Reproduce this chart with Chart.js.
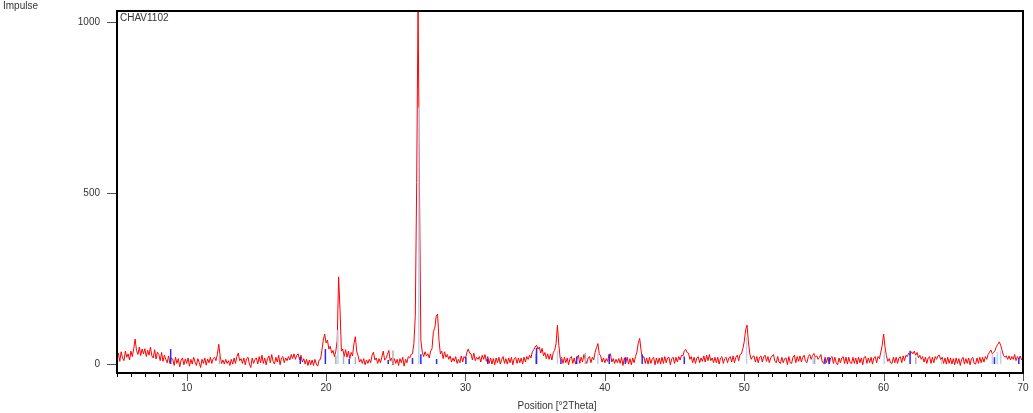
<!DOCTYPE html>
<html>
<head>
<meta charset="utf-8">
<script src="https://cdn.jsdelivr.net/npm/chart.js@4"></script>
<style>
  html, body { margin: 0; padding: 0; background: #fff; }
  #wrap { width: 1033px; height: 413px; }
</style>
</head>
<body>
<div id="wrap"><canvas id="xrd" width="1033" height="413"></canvas></div>
<script>
// scan: 5.0 to 70.0 deg 2Theta, one row per degree (0.1 step)
const startAngle = 5, angleStep = 0.1;
const impulse = [
  12, 32, 8, 36, 18, 10, 38, 20, 30, 12,
  38, 22, 45, 73, 40, 28, 50, 25, 44, 30,
  45, 22, 40, 26, 50, 24, 18, 42, 15, 35,
  28, 10, 34, 8, 26, 14, 4, 24, 2, 18,
  14, -4, 20, 2, 16, -8, 12, 18, -2, 15,
  2, 18, -6, 14, 0, 20, 6, -4, 16, 4,
  -10, 14, 2, 18, -3, 15, 4, 20, 2, 16,
  20, 10, 28, 58, 24, 2, 12, 0, 14, 2,
  10, -4, 14, 0, 18, 2, 22, 32, 10, 16,
  2, 18, -2, 16, 20, 0, -10, 18, 2, 14,
  18, 0, 22, 4, 26, 2, 18, -2, 16, 24,
  4, 28, 8, 0, 20, 6, 26, -2, 18, 22,
  4, 18, 10, 22, 12, 28, 16, 30, 14, 26,
  30, 12, 26, 6, 16, 0, 14, -4, 12, -2,
  12, -4, 14, 0, -6, 12, 14, 40, 70, 88,
  62, 70, 44, 52, 32, 40, 22, 38, 70, 255,
  160, 38, 44, 22, 42, 20, 38, 16, 34, 24,
  60, 80, 36, 24, 6, 14, 2, 16, -2, 12,
  2, 14, 4, 26, 35, 12, 18, 2, 16, 4,
  20, 38, 12, 16, 28, 40, 10, 18, -2, 16,
  2, 14, -4, 16, 4, 20, -6, 14, 4, 22,
  18, 28, 30, 60, 140, 530, 1060, 520, 70, 35,
  22, 36, 24, 30, 18, 38, 45, 95, 105, 140,
  146, 70, 30, 38, 16, 36, 20, 28, 14, 24,
  6, 18, 8, 22, 2, 14, 4, 24, 6, 22,
  16, 34, 44, 32, 30, 12, 32, 10, 20, 14,
  22, 6, 26, 14, 28, 8, 22, 2, 18, 0,
  16, -2, 18, 4, 20, 0, 14, 22, 2, 16,
  0, 18, 4, 20, -2, 16, 20, 2, 18, 4,
  18, 0, 20, 6, 22, 14, 26, 18, 36, 42,
  50, 55, 44, 50, 32, 46, 24, 34, 16, 30,
  14, 30, 12, 34, 40, 60, 114, 55, 16, 20,
  2, 20, 4, 18, -2, 16, 22, 2, 18, 0,
  18, 26, 2, 20, 6, 28, 12, 2, 18, 22,
  4, 20, 12, 34, 48, 60, 30, 24, 6, 18,
  4, 16, 8, 28, 30, 6, 16, 2, 14, 4,
  16, 2, 20, -4, 18, 4, 20, 0, 16, -2,
  18, 4, 22, 35, 62, 75, 40, 18, 22, 2,
  18, 0, 20, 2, 16, 20, -2, 18, 2, 18,
  0, 20, 2, 22, 4, 18, 20, -2, 16, 20,
  2, 20, 6, 22, 12, 26, 24, 38, 43, 34,
  32, 14, 22, 4, 20, 2, 18, 22, 4, 18,
  8, 24, 6, 26, 10, 28, 10, 18, 4, 20,
  4, 20, 0, 18, 22, 2, 16, 20, 4, 18,
  22, 6, 24, 4, 20, 26, 10, 28, 30, 45,
  65, 100, 114, 65, 30, 14, 22, 24, 6, 22,
  4, 20, 24, 6, 22, 26, 8, 22, 4, 18,
  24, 28, 8, 4, 22, 6, 2, 20, 4, 16,
  18, -2, 22, 4, 2, 20, 26, 4, 22, 8,
  24, 6, 20, 26, 8, 4, 22, 28, 14, 25,
  31, 20, 24, 14, 20, 28, 6, 2, 20, 4,
  20, 0, 18, 22, 2, 20, 4, -2, 18, 4,
  18, 22, 2, 20, 0, 20, 4, 2, 20, 2,
  18, 0, 20, 4, 18, -2, 20, 22, 2, 18,
  4, 20, 0, 18, 22, 4, 22, 16, 35, 55,
  88, 50, 25, 8, 16, 4, 2, 20, 4, 20,
  2, 18, 22, 4, 24, 10, 26, 22, 32, 28,
  36, 30, 38, 26, 34, 18, 26, 14, 22, 6,
  20, 2, 18, 22, 2, 20, 4, 22, 14, 24,
  26, 12, 20, 2, 18, 0, 20, 2, 18, 0,
  16, -2, 18, 2, 16, -4, 14, 20, 0, 16,
  2, 18, -2, 16, 20, 2, 0, 18, 2, 20,
  4, 20, 6, 22, 14, 28, 35, 41, 30, 34,
  40, 52, 58, 65, 55, 40, 25, 20, 24, 14,
  24, 12, 22, 14, 28, 10, 22, 14, 24, 12,
  20
];

// reference pattern sticks
const blueAngles  = [8.85, 18.15, 19.95, 21.66, 24.46, 26.2, 26.8, 27.93, 30.03, 31.6, 35.1, 36.85, 37.98, 40.32, 41.47, 42.68, 45.7, 55.79, 56.1, 61.9, 67.95, 69.7];
const blueHeights = [44, 21, 44, 15, 12, 18, 29, 15, 20, 16, 47, 15, 22, 29, 20, 28, 22, 14, 20, 39, 20, 18];
const lightAngles  = [20.85, 26.65, 36.6, 39.5, 50.17, 54.95, 60.05, 64.15, 67.8, 68.15, 68.4];
const lightHeights = [100, 750, 40, 30, 80, 20, 40, 15, 30, 35, 40];
const greyAngles  = [12.35, 20.7, 21.25, 22.1, 24.8, 35.05, 38.6, 55.05, 62.3];
const greyHeights = [26, 25, 25, 20, 40, 30, 33, 20, 20];

const xTickValues = [10, 20, 30, 40, 50, 60, 70];
const yTickValues = [0, 500, 1000];

const scan = impulse.map((v, i) => ({ x: +(startAngle + i * angleStep).toFixed(1), y: v }));

function sticks(angles, heights) {
    let pts = [];
    angles.forEach((a, i) => {
        pts.push({ x: a, y: 0 }, { x: a, y: heights[i] }, { x: a, y: null });
    });
    return pts;
}

function noPad(s) {
    s.paddingTop = 0;
    s.paddingBottom = 0;
    s.paddingLeft = 0;
    s.paddingRight = 0;
}

const frame = {
    id: 'frame',
    afterDraw(chart) {
        const c = chart.ctx, a = chart.chartArea;
        const xs = chart.scales.x, ys = chart.scales.y;
        c.save();
        c.lineWidth = 1;
        // x ticks, every degree, longer at tens
        for (let v = 5; v <= 70; v++) {
            let px = Math.round(xs.getPixelForValue(v)) + 0.5;
            c.strokeStyle = v % 10 === 0 ? '#555' : '#000';
            c.beginPath();
            c.moveTo(px, a.bottom);
            c.lineTo(px, a.bottom + (v % 10 === 0 ? 8 : 4));
            c.stroke();
        }
        c.strokeStyle = '#555';
        yTickValues.forEach(v => {
            let py = Math.round(ys.getPixelForValue(v)) + 0.5;
            c.beginPath();
            c.moveTo(a.left - 10, py);
            c.lineTo(a.left, py);
            c.stroke();
        });
        c.strokeStyle = '#000';
        c.lineWidth = 2;
        c.strokeRect(a.left, a.top, a.right - a.left, a.bottom - a.top);

        c.fillStyle = '#333';
        c.font = '10px "Liberation Sans", Arial, sans-serif';
        c.textBaseline = 'middle';
        c.textAlign = 'left';
        c.fillText('Impulse', 3, 6);
        c.fillText('CHAV1102', a.left + 3, a.top + 7);
        c.textAlign = 'center';
        c.fillText('Position [°2Theta]', 557, 406);
        c.restore();
    }
};

let ctx = document.getElementById('xrd').getContext('2d');
let xrdChart = new Chart(ctx, {
    type: 'line',
    data: {
        datasets: [
            {
                label: 'ref 1',
                data: sticks(blueAngles, blueHeights),
                borderColor: 'rgb(40, 40, 255)',
                borderWidth: 1.5,
                pointRadius: 0,
                spanGaps: false
            },
            {
                label: 'ref 2',
                data: sticks(greyAngles, greyHeights),
                borderColor: 'rgb(175, 175, 175)',
                borderWidth: 1.5,
                pointRadius: 0,
                spanGaps: false
            },
            {
                label: 'ref 3',
                data: sticks(lightAngles, lightHeights),
                borderColor: 'rgb(190, 210, 245)',
                borderWidth: 1.5,
                pointRadius: 0,
                spanGaps: false
            },
            {
                label: 'CHAV1102',
                data: scan,
                borderColor: 'rgb(255, 0, 0)',
                borderWidth: 1,
                pointRadius: 0,
                tension: 0
            }
        ]
    },
    options: {
        responsive: false,
        animation: false,
        events: [],
        layout: { padding: { top: 11, right: 10, left: 0, bottom: 0 } },
        plugins: {
            legend: { display: false },
            tooltip: { enabled: false }
        },
        scales: {
            x: {
                type: 'linear',
                min: 5,
                max: 70,
                grid: { display: false, drawTicks: false },
                border: { display: false },
                afterBuildTicks: s => { s.ticks = xTickValues.map(v => ({ value: v })); },
                afterFit: s => { s.height = 40; noPad(s); },
                ticks: {
                    padding: 9,
                    maxRotation: 0,
                    color: '#333',
                    font: { family: '"Liberation Sans", Arial, sans-serif', size: 10 }
                }
            },
            y: {
                min: -26,
                max: 1032,
                grid: { display: false, drawTicks: false },
                border: { display: false },
                afterBuildTicks: s => { s.ticks = yTickValues.map(v => ({ value: v })); },
                afterFit: s => { s.width = 117; noPad(s); },
                ticks: {
                    padding: 17,
                    color: '#333',
                    callback: v => String(v),
                    font: { family: '"Liberation Sans", Arial, sans-serif', size: 10 }
                }
            }
        }
    },
    plugins: [frame]
});
</script>
</body>
</html>
